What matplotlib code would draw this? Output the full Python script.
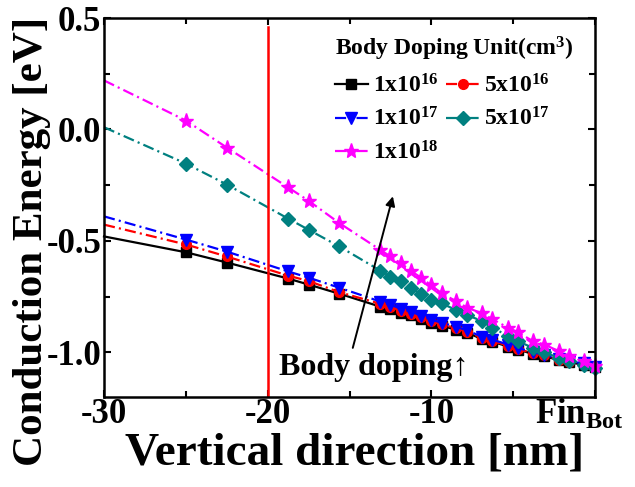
import numpy as np
import matplotlib
matplotlib.use("Agg")
import matplotlib.pyplot as plt
import matplotlib.transforms as mtransforms

plt.rcParams['font.family'] = ['Liberation Serif', 'DejaVu Serif']
plt.rcParams['font.weight'] = 'bold'
plt.rcParams['mathtext.fontset'] = 'custom'
plt.rcParams['mathtext.rm'] = 'Liberation Serif:bold'
plt.rcParams['mathtext.bf'] = 'Liberation Serif:bold'
plt.rcParams['mathtext.it'] = 'Liberation Serif:bold:italic'
plt.rcParams['mathtext.default'] = 'bf'
plt.rcParams['lines.scale_dashes'] = False

# position along the fin (nm), 0 = fin bottom
depth = [-30, -25, -22.5, -18.75, -17.5, -15.625, -13.125, -12.5, -11.875, -11.25,
         -10.625, -10, -9.375, -8.5, -7.8, -6.9, -6.3, -5.3, -4.7, -3.8,
         -3.1, -2.2, -1.6, -0.7, 0]

# conduction band energy (eV) per body doping
ec_1e16 = [-0.48, -0.551, -0.597, -0.669, -0.696, -0.737, -0.795, -0.806, -0.822, -0.834,
           -0.851, -0.868, -0.881, -0.898, -0.913, -0.94, -0.952, -0.974, -0.988, -1.007,
           -1.017, -1.035, -1.045, -1.055, -1.068]
ec_5e16 = [-0.427, -0.516, -0.57, -0.656, -0.68, -0.73, -0.782, -0.796, -0.813, -0.826,
           -0.843, -0.861, -0.874, -0.892, -0.908, -0.935, -0.948, -0.97, -0.985, -1.004,
           -1.014, -1.033, -1.043, -1.053, -1.067]
ec_1e17 = [-0.39, -0.494, -0.548, -0.637, -0.665, -0.71, -0.772, -0.786, -0.804, -0.817,
           -0.835, -0.853, -0.867, -0.885, -0.902, -0.93, -0.943, -0.965, -0.98, -1.0,
           -1.01, -1.03, -1.04, -1.05, -1.065]
ec_5e17 = [0.01, -0.153, -0.247, -0.40, -0.45, -0.525, -0.633, -0.66, -0.68, -0.71,
           -0.74, -0.765, -0.78, -0.81, -0.833, -0.86, -0.89, -0.925, -0.95, -0.98,
           -1.0, -1.025, -1.04, -1.055, -1.07]
ec_1e18 = [0.22, 0.04, -0.081, -0.26, -0.32, -0.42, -0.54, -0.57, -0.60, -0.635,
           -0.665, -0.70, -0.735, -0.77, -0.80, -0.825, -0.85, -0.89, -0.91, -0.95,
           -0.965, -0.995, -1.015, -1.04, -1.06]

labels = ['1x10$^{16}$', '5x10$^{16}$', '1x10$^{17}$', '5x10$^{17}$', '1x10$^{18}$']
colors = ['black', '#ff0000', '#0000ff', '#008080', '#ff00ff']
markers = ['s', 'o', 'v', 'D', '*']
msizes = [7, 7, 8.5, 7, 11]
dashdot = (0, (8, 3, 1.5, 3))
styles = ['-', dashdot, dashdot, dashdot, dashdot]
series = [ec_1e16, ec_5e16, ec_1e17, ec_5e17, ec_1e18]

fig = plt.figure(figsize=(6.35, 4.87), dpi=100)
ax = fig.add_axes([0.1638, 0.185, 0.7732, 0.778])

lines = []
for y, lab, c, m, ms, ls in zip(series, labels, colors, markers, msizes, styles):
    ln, = ax.plot(depth, y, color=c, marker=m, markersize=ms, linestyle=ls, lw=1.6,
                  markevery=slice(1, None), label=lab, clip_on=False)
    lines.append(ln)

# gate edge marker
ax.plot([-20, -20], [0.46, -1.2], color='#ff0000', lw=1.8)

ax.annotate('', xy=(-12.35, -0.30), xytext=(-14.8, -0.98),
            arrowprops=dict(arrowstyle='-|>', color='black', lw=1.4,
                            mutation_scale=14, shrinkA=0, shrinkB=0))
ax.text(-19.3, -1.07, 'Body doping\u2191', fontsize=23, fontweight='bold',
        ha='left', va='center')

ax.set_xlim(-30, 0)
ax.set_ylim(-1.2, 0.5)
ax.set_xticks([-30, -20, -10, 0])
ax.set_xticks([-25, -15, -5], minor=True)
ax.set_xticklabels(['-30', '-20', '-10', 'Fin$_{\\mathrm{Bot}}$'])
ax.set_yticks([0.5, 0.0, -0.5, -1.0])
ax.set_yticks([0.25, -0.25, -0.75], minor=True)
ax.set_yticklabels(['0.5', '0.0', '-0.5', '-1.0'])
ax.tick_params(which='both', direction='in', top=True, right=True, width=1.5,
               labelsize=25, pad=2)
ax.tick_params(axis='x', which='both', pad=1)
ax.tick_params(which='major', length=5)
ax.tick_params(which='minor', length=4)
for sp in ax.spines.values():
    sp.set_linewidth(1.8)

fin = ax.get_xticklabels()[-1]
fin.set_transform(fin.get_transform() +
                  mtransforms.ScaledTranslation(-0.16, 0, fig.dpi_scale_trans))

ax.set_xlabel('Vertical direction [nm]', fontsize=34, fontweight='bold')
ax.set_ylabel('Conduction Energy [eV]', fontsize=31, fontweight='bold')
ax.xaxis.set_label_coords(0.51, -0.095)
ax.yaxis.set_label_coords(-0.108, 0.41)

order = [0, 2, 4, 1, 3]
leg = ax.legend([lines[i] for i in order], [labels[i] for i in order],
                loc='upper left', bbox_to_anchor=(0.47, 0.955), ncol=2,
                frameon=False, fontsize=17, title='Body Doping Unit(cm$^{3}$)',
                title_fontproperties={'size': 17, 'weight': 'bold'},
                handlelength=1.4, handletextpad=0.2, columnspacing=0.35,
                labelspacing=0.45, borderpad=0, borderaxespad=0,
                alignment='left')

fig.savefig('out.png', dpi=100)
